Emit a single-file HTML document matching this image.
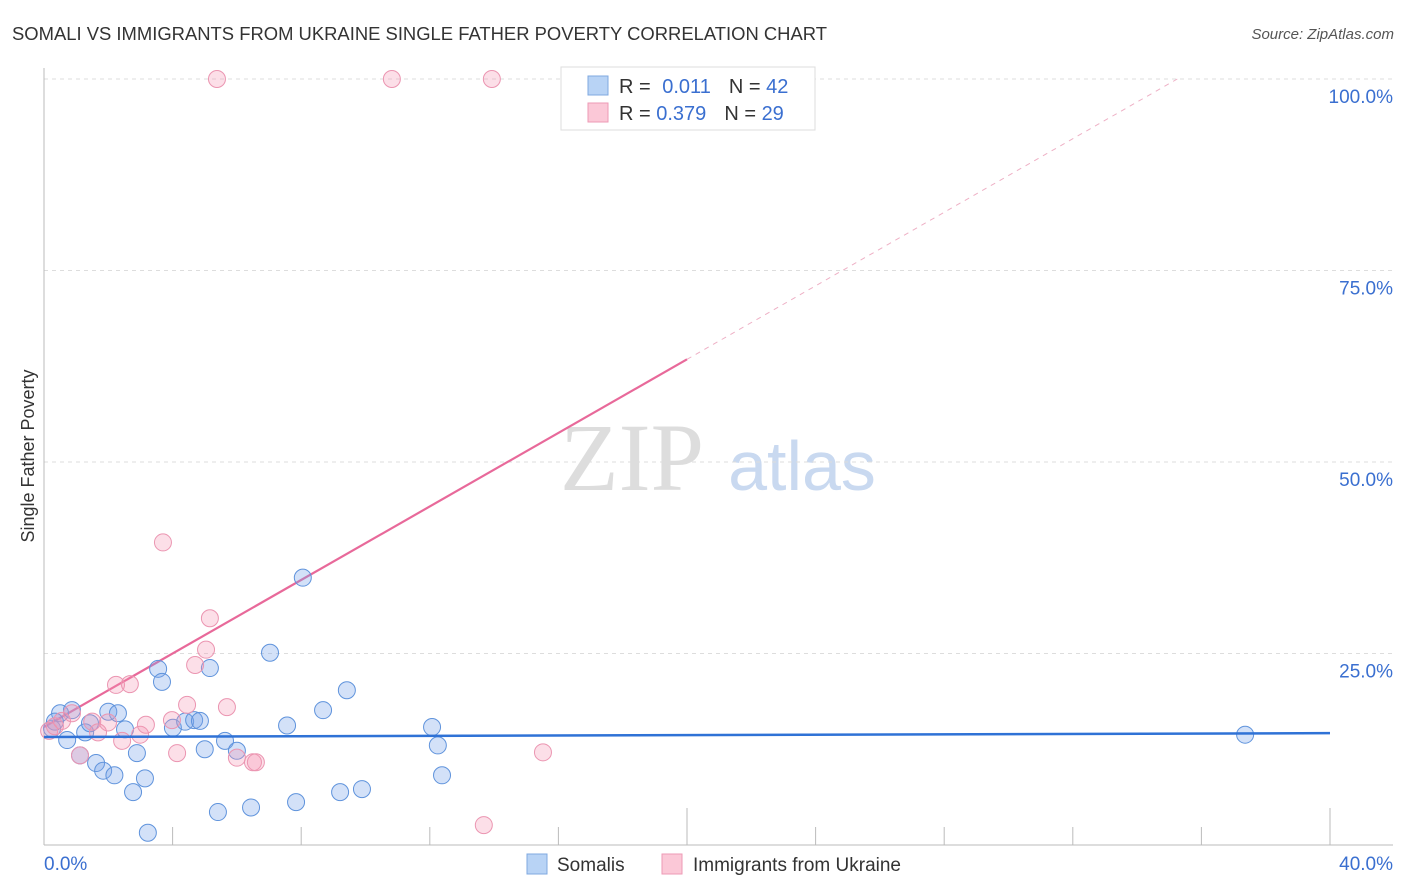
<!DOCTYPE html>
<html><head><meta charset="utf-8"><style>
body{margin:0;background:#fff;font-family:"Liberation Sans",sans-serif;}
#wrap{position:relative;width:1406px;height:892px;overflow:hidden;}
</style></head><body>
<div id="wrap">
<svg id="svg" width="1406" height="892" xmlns="http://www.w3.org/2000/svg">
<text x="12" y="40" font-size="18" fill="#333" textLength="815" lengthAdjust="spacingAndGlyphs">SOMALI VS IMMIGRANTS FROM UKRAINE SINGLE FATHER POVERTY CORRELATION CHART</text>
<text x="1394" y="39" font-size="15" fill="#555" font-style="italic" text-anchor="end">Source: ZipAtlas.com</text>
<text x="0" y="0" transform="translate(34,456) rotate(-90)" font-size="18" fill="#333" text-anchor="middle">Single Father Poverty</text>
<text x="632" y="490" font-size="96" fill="#ddd" font-family="Liberation Serif,serif" text-anchor="middle">ZIP</text>
<text x="802" y="490" font-size="70" fill="#c9d9f0" text-anchor="middle">atlas</text>
<g id="grid"></g><g id="marks"></g>
<g>
<rect x="561" y="67" width="254" height="63" fill="#fff" stroke="#ddd"/>
<rect x="588" y="76" width="20" height="19" fill="#b8d3f5" stroke="#7fa8e0"/>
<rect x="588" y="103" width="20" height="19" fill="#fbc8d7" stroke="#ee9ab5"/>
<text x="619" y="93" font-size="20" fill="#333">R = <tspan fill="#3a6fd0" dx="6">0.011</tspan><tspan dx="18" fill="#333">N = </tspan><tspan fill="#3a6fd0">42</tspan></text>
<text x="619" y="120" font-size="20" fill="#333">R = <tspan fill="#3a6fd0">0.379</tspan><tspan dx="18" fill="#333">N = </tspan><tspan fill="#3a6fd0">29</tspan></text>
</g>
<g>
<rect x="527" y="854" width="20" height="20" fill="#b8d3f5" stroke="#7fa8e0"/>
<text x="557" y="871" font-size="19" fill="#333">Somalis</text>
<rect x="662" y="854" width="20" height="20" fill="#fbc8d7" stroke="#ee9ab5"/>
<text x="693" y="871" font-size="19" fill="#333">Immigrants from Ukraine</text>
</g>
</svg>
</div>
<script>
const yTicks=[25,50,75,100];
const yTickLabels=["25.0%","50.0%","75.0%","100.0%"];
const xTicks=[0,4,8,12,16,20,24,28,32,36,40];
const somaliX=[0.25,0.5,0.87,0.72,1.12,1.28,1.43,1.62,1.84,2.19,2.0,2.3,2.52,2.77,2.89,3.14,3.23,3.55,3.67,4.01,4.39,4.67,4.85,5.0,5.16,5.41,5.63,6.0,6.44,7.03,7.56,7.84,8.05,8.68,9.21,9.42,9.89,12.07,12.25,12.38,37.36,0.34];
const somaliY=[15.2,17.2,17.6,13.7,11.7,14.7,15.9,10.7,9.7,9.1,17.4,17.2,15.1,6.9,12.0,8.7,1.6,23.0,21.3,15.3,16.1,16.3,16.2,12.5,23.1,4.3,13.6,12.3,4.9,25.1,15.6,5.6,34.9,17.6,6.9,20.2,7.3,15.4,13.0,9.1,14.4,16.1];
const ukraineX=[0.16,0.34,0.56,0.87,1.12,1.5,1.68,1.99,2.24,2.43,2.67,2.99,3.17,3.7,3.98,4.14,4.45,4.7,5.04,5.16,5.69,6.0,6.5,6.59,5.38,10.82,13.93,15.52,13.68];
const ukraineY=[14.9,15.5,16.2,17.2,11.7,16.1,14.7,16.0,20.9,13.6,21.0,14.4,15.7,39.5,16.3,12.0,18.3,23.5,25.5,29.6,18.0,11.4,10.8,10.8,100,100,100,12.1,2.6];
const somaliTrend=[14.1,14.6];
const ukraineTrend=[15.4,2.40];
const L=44,R=1330,T=79,B=845;
const xs=v=>L+v/40*(R-L);
const ys=v=>B-v/100*(B-T);
const NS="http://www.w3.org/2000/svg";
function mk(tag,attrs,parent){const e=document.createElementNS(NS,tag);for(const k in attrs)e.setAttribute(k,attrs[k]);parent.appendChild(e);return e;}
const grid=document.getElementById('grid'),marks=document.getElementById('marks');
yTicks.forEach((t,i)=>{
 const g=mk('line',{x1:L,x2:1393,y1:ys(t),y2:ys(t),stroke:'#ddd','stroke-dasharray':'4,4'},grid);
 
 
 const tx=mk('text',{x:1393,y:ys(t)+24,'font-size':19,fill:'#3a6fd0','text-anchor':'end'},grid);
 tx.textContent=yTickLabels[i];
 
 
});
const ya=mk('line',{x1:L,x2:L,y1:68,y2:B,stroke:'#bbb'},grid);


const xa=mk('line',{x1:L,x2:1393,y1:B,y2:B,stroke:'#bbb'},grid);


xTicks.forEach(t=>{
 if(t===0)return;
 const tall=(t===20||t===40);
 const tk=mk('line',{x1:xs(t),x2:xs(t),y1:tall?808:827,y2:B,stroke:'#bbb'},grid);
 
 
});
const xl0=mk('text',{x:44,y:870,'font-size':19,fill:'#3a6fd0'},grid);xl0.textContent='0.0%';


const xl1=mk('text',{x:1393,y:870,'font-size':19,fill:'#3a6fd0','text-anchor':'end'},grid);xl1.textContent='40.0%';


const xEnd=(100-ukraineTrend[0])/ukraineTrend[1];
const ps=mk('line',{x1:xs(0),y1:ys(ukraineTrend[0]),x2:xs(20),y2:ys(ukraineTrend[0]+20*ukraineTrend[1]),stroke:'#e8699a','stroke-width':2.2},marks);


const pd=mk('line',{x1:xs(20),y1:ys(ukraineTrend[0]+20*ukraineTrend[1]),x2:xs(xEnd),y2:ys(100),stroke:'#eeb0c5','stroke-width':1,'stroke-dasharray':'5,5'},marks);


somaliX.forEach((x,i)=>{
 const c=mk('circle',{cx:xs(x),cy:ys(somaliY[i]),r:8.5,fill:'rgba(120,165,235,0.33)',stroke:'#5f93dc','stroke-width':1},marks);
 
 
});
ukraineX.forEach((x,i)=>{
 const c=mk('circle',{cx:xs(x),cy:ys(ukraineY[i]),r:8.5,fill:'rgba(245,150,180,0.3)',stroke:'#eb95b1','stroke-width':1},marks);
 
 
});
const bt=mk('line',{x1:xs(0),y1:ys(somaliTrend[0]),x2:xs(40),y2:ys(somaliTrend[1]),stroke:'#2f72d6','stroke-width':2.5},marks);


</script>
</body></html>
